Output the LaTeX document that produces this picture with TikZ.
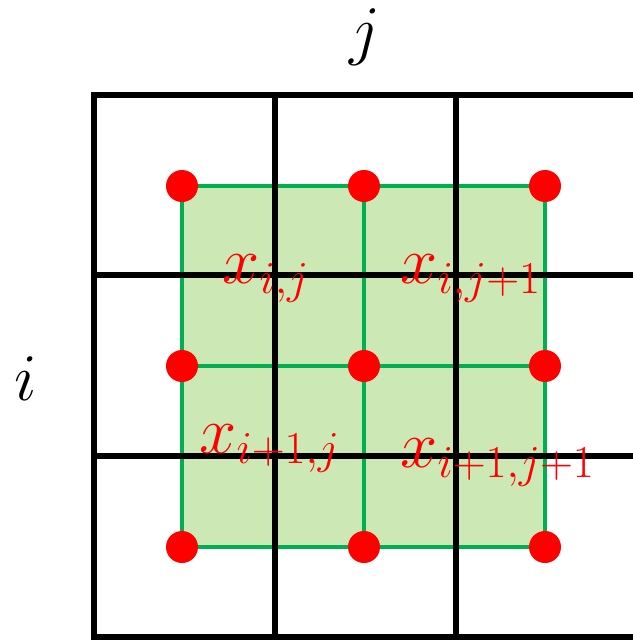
\RequirePackage{fix-cm}
\documentclass[tikz,border=0pt]{standalone}
\usepackage{amsmath}
\usepackage{xcolor}
\usetikzlibrary{positioning}
\DeclareMathSizes{38}{38}{26}{19}
\definecolor{cellfill}{HTML}{CCE8B5}
\definecolor{cellline}{HTML}{00B050}
\definecolor{pt}{HTML}{FF0000}

\begin{document}
\begin{tikzpicture}[x=0.02cm, y=-0.02cm,
  gridline/.style={line width=2.9pt, black},
  patchline/.style={line width=2.3pt, cellline},
  dot/.style={circle, fill=pt, inner sep=0pt, minimum size=0.64cm},
  lbl/.style={text=pt, font=\fontsize{38}{44}\selectfont, anchor=base west, inner sep=0pt},
  axis/.style={font=\fontsize{38}{44}\selectfont, inner sep=0pt}]
\useasboundingbox (0,0) rectangle (633,640);
% patch corners
\foreach \r/\y in {1/186,2/366,3/547}
  \foreach \c/\x in {1/182,2/364,3/545}
    \coordinate (p\r\c) at (\x,\y);
% shaded patch
\fill[cellfill] (p11) rectangle (p33);
\draw[patchline] (p11) -- (p13) (p21) -- (p23) (p31) -- (p33);
\draw[patchline] (p11) -- (p31) (p12) -- (p32) (p13) -- (p33);
% grid
\draw[gridline] (633,95) -- (94,95) -- (94,637) -- (633,637);
\foreach \x in {275,456} \draw[gridline] (\x,95) -- (\x,637);
\foreach \y in {275,456} \draw[gridline] (94,\y) -- (633,\y);
% sample points
\foreach \r in {1,2,3}
  \foreach \c in {1,2,3}
    \node[dot] (d\r\c) at (p\r\c) {};
% labels
\node[lbl] (x11) at (222,283) {$x_{i,j}$};
\node[lbl] (x12) at (400,283) {$x_{i,j+1}$};
\node[lbl] (x21) at (199,453) {$x_{i+1,j}$};
\node[lbl] (x22) at (400,467) {$x_{i+1,j+1}$};
\node[axis] (aj) at (365,37) {$j$};
\node[axis] (ai) at (26,379) {$i$};
\end{tikzpicture}
\end{document}
